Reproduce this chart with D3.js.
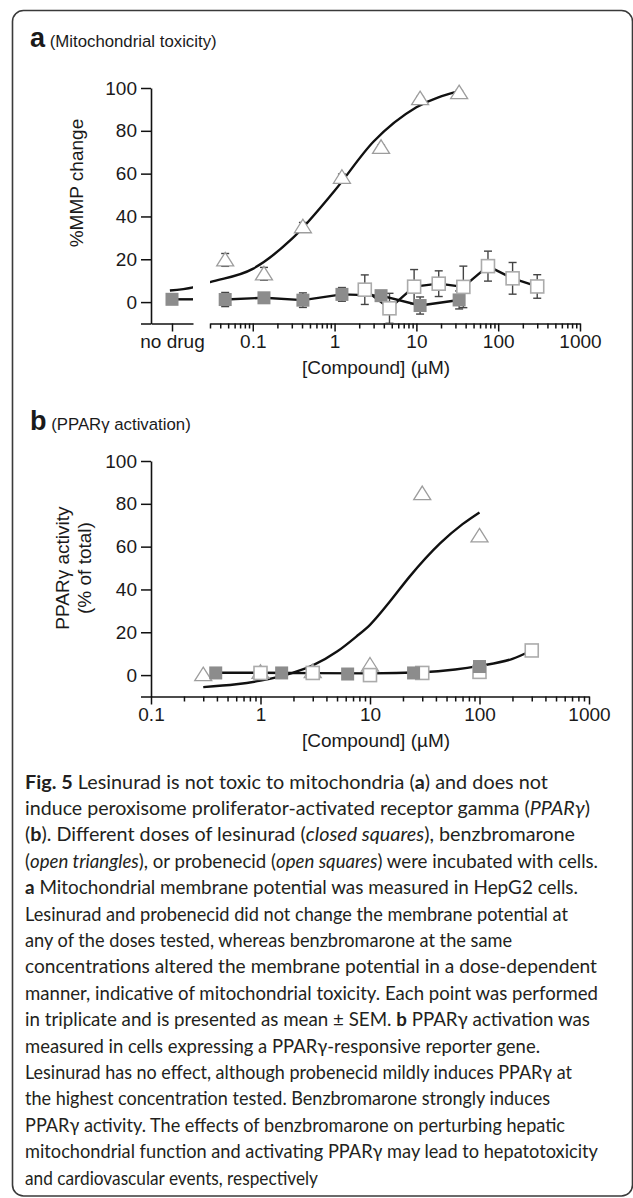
<!DOCTYPE html>
<html>
<head>
<meta charset="utf-8">
<script src="https://cdnjs.cloudflare.com/ajax/libs/d3/7.8.5/d3.min.js"></script>
<style>
  html, body { margin: 0; padding: 0; background: #fff; }
  svg { display: block; }
  text { font-family: "Liberation Sans", Arial, Helvetica, sans-serif; fill: #1a1a1a; }
  .caption text { font-family: Lato, "Open Sans", sans-serif; fill: #231f20; }
</style>
</head>
<body>
<svg width="633" height="1198"></svg>
<script>
// ---- panel a (mitochondrial toxicity), %MMP change ----
const noDrug = ['no drug'];
const lesNoDrugA = 1.3;
const lesDoseA = [0.046, 0.137, 0.41, 1.23, 3.7, 11.1, 33.3];
const lesMmpA = [1.2, 2.0, 0.9, 3.6, 3.0, -1.6, 1.0];
const lesSemA = [3.3, 1.2, 3.4, 3.2, 1.2, 4.0, 4.2];
const benzDoseA = [0.046, 0.137, 0.41, 1.23, 3.7, 11.1, 33.3];
const benzMmpA = [19.7, 13.2, 35.2, 58.3, 72.3, 95.0, 97.8];
const benzSemA = [3.0, 3.0, 2.0, 1.5, 1.0, 1.0, 1.0];
const probDoseA = [2.34, 4.69, 9.38, 18.75, 37.5, 75, 150, 300];
const probMmpA = [5.8, -2.9, 7.2, 8.6, 7.1, 16.8, 11.1, 7.3];
const probSemA = [6.9, 7.0, 8.0, 6.0, 9.7, 7.0, 7.4, 5.5];
// fitted curve for benzbromarone: [dose, %]
const benzFitA = [[0.0097, 5.4], [0.0186, 6.9], [0.03, 9.3], [0.1, 15.5], [0.3, 29.5],
                  [1, 52], [3, 75], [10, 91], [33.3, 98.5]];

// ---- panel b (PPARy activation), % of total ----
const lesDoseB = [0.39, 1.56, 6.25, 25, 100];
const lesActB = [1.0, 1.0, 0.5, 1.0, 4.0];
const benzDoseB = [0.3, 1, 3, 10, 30, 100];
const benzActB = [0.2, 1.3, 1.6, 4.7, 84.8, 65];
const probDoseB = [1, 3, 10, 30, 100, 300];
const probActB = [1.0, 1.0, 0.0, 1.0, 1.5, 11.5];
const benzFitB = [[0.3, -5.6], [0.6, -4.3], [1, -2.6], [2, 1.2], [3, 4.5], [5, 11], [7.5, 18],
                  [10, 23.5], [15, 34], [23, 46], [43.6, 61.5], [70, 70.5], [100, 76]];
const lowFitB = [[0.39, 1.1], [1, 1.1], [3, 0.9], [10, 0.8], [30, 1.3], [60, 2.6],
                 [100, 4.3], [200, 7.6], [300, 11.5]];

const yTicks = [-10, 0, 20, 40, 60, 80, 100];
const decades = [0.1, 1, 10, 100, 1000];

const captionLines = [
  [['Fig. 5', 'b'], [' Lesinurad is not toxic to mitochondria ('], ['a', 'b'], [') and does not']],
  [['induce peroxisome proliferator-activated receptor gamma ('], ['PPARγ', 'i'], [')']],
  [['('], ['b', 'b'], ['). Different doses of lesinurad ('], ['closed squares', 'i'], ['), benzbromarone']],
  [['('], ['open triangles', 'i'], ['), or probenecid ('], ['open squares', 'i'], [') were incubated with cells.']],
  [['a', 'b'], [' Mitochondrial membrane potential was measured in HepG2 cells.']],
  [['Lesinurad and probenecid did not change the membrane potential at']],
  [['any of the doses tested, whereas benzbromarone at the same']],
  [['concentrations altered the membrane potential in a dose-dependent']],
  [['manner, indicative of mitochondrial toxicity. Each point was performed']],
  [['in triplicate and is presented as mean ± SEM. '], ['b', 'b'], [' PPARγ activation was']],
  [['measured in cells expressing a PPARγ-responsive reporter gene.']],
  [['Lesinurad has no effect, although probenecid mildly induces PPARγ at']],
  [['the highest concentration tested. Benzbromarone strongly induces']],
  [['PPARγ activity. The effects of benzbromarone on perturbing hepatic']],
  [['mitochondrial function and activating PPARγ may lead to hepatotoxicity']],
  [['and cardiovascular events, respectively']]
];
// right end of each caption line as it sits in the figure
const captionEnds = [548, 590, 575, 598, 578, 568, 512, 597, 598, 590, 540, 572, 550, 565, 598, 318];

const svg = d3.select('svg');
const ink = '#111';

// outer frame
svg.append('rect')
  .attr('x', 12.5).attr('y', 10.5)
  .attr('width', 620).attr('height', 1185.5)
  .attr('rx', 11)
  .attr('fill', 'none').attr('stroke', '#3a3a3a').attr('stroke-width', 1.6);

function styleAxis(g) {
  g.select('.domain').attr('stroke', ink).attr('stroke-width', 1.6);
  g.selectAll('.tick line').attr('stroke', ink).attr('stroke-width', 1.5);
  g.selectAll('.tick text').attr('fill', '#1a1a1a').style('font-size', '19px')
    .style('font-family', '"Liberation Sans", Arial, sans-serif');
}

function drawYAxis(g, y, left) {
  const ax = g.append('g')
    .attr('transform', `translate(${left},0)`)
    .call(d3.axisLeft(y).tickValues(yTicks).tickSize(10).tickSizeOuter(0).tickPadding(4)
      .tickFormat(d => d < 0 ? '' : d));
  styleAxis(ax);
}

function drawLogAxis(g, x, yPos) {
  const ax = g.append('g')
    .attr('transform', `translate(0,${yPos})`)
    .call(d3.axisBottom(x).tickValues(x.ticks()).tickSize(8).tickSizeOuter(0).tickPadding(3)
      .tickFormat(d => decades.some(v => Math.abs(v - d) < 1e-9) ? d3.format('~g')(d) : ''));
  ax.selectAll('.tick')
    .filter(d => !decades.some(v => Math.abs(v - d) < 1e-9))
    .select('line').attr('y2', 5);
  styleAxis(ax);
}

function errBars(g, xs, vals, errs, x, y) {
  const data = d3.zip(xs, vals, errs);
  const grp = g.append('g').attr('stroke', '#444').attr('stroke-width', 1.4);
  grp.selectAll('line.v').data(data).join('line').attr('class', 'v')
    .attr('x1', d => x(d[0])).attr('x2', d => x(d[0]))
    .attr('y1', d => y(d[1] - d[2])).attr('y2', d => y(d[1] + d[2]));
  [1, -1].forEach(s => {
    grp.selectAll('line.c' + (s > 0 ? 't' : 'b')).data(data).join('line')
      .attr('class', 'c' + (s > 0 ? 't' : 'b'))
      .attr('x1', d => x(d[0]) - 4).attr('x2', d => x(d[0]) + 4)
      .attr('y1', d => y(d[1] + s * d[2])).attr('y2', d => y(d[1] + s * d[2]));
  });
}

function closedSquares(g, xs, vals, x, y) {
  g.append('g').selectAll('rect').data(d3.zip(xs, vals)).join('rect')
    .attr('x', d => x(d[0]) - 6.5).attr('y', d => y(d[1]) - 6.5)
    .attr('width', 13).attr('height', 13).attr('fill', '#8c8c8c');
}

function openSquares(g, xs, vals, x, y) {
  g.append('g').selectAll('rect').data(d3.zip(xs, vals)).join('rect')
    .attr('x', d => x(d[0]) - 6.5).attr('y', d => y(d[1]) - 6.5)
    .attr('width', 13).attr('height', 13)
    .attr('fill', '#fff').attr('stroke', '#ababab').attr('stroke-width', 1.6);
}

function triangles(g, xs, vals, x, y) {
  g.append('g').selectAll('path').data(d3.zip(xs, vals)).join('path')
    .attr('d', d => {
      const cx = x(d[0]), cy = y(d[1]);
      return `M${cx},${cy - 7.5}L${cx + 8.5},${cy + 6}L${cx - 8.5},${cy + 6}Z`;
    })
    .attr('fill', '#fff').attr('stroke', '#9d9d9d').attr('stroke-width', 1.3);
}

function plotLine(g, pts, x, y, clip) {
  const p = g.append('path')
    .datum(pts)
    .attr('d', d3.line().x(d => x(d[0])).y(d => y(d[1])))
    .attr('fill', 'none').attr('stroke', ink).attr('stroke-width', 2.4)
    .attr('stroke-linejoin', 'round');
  if (clip) p.attr('clip-path', `url(#${clip})`);
  return p;
}

function smoothLine(g, pts, x, y, clip) {
  const p = g.append('path')
    .datum(pts)
    .attr('d', d3.line().curve(d3.curveMonotoneX).x(d => x(d[0])).y(d => y(d[1])))
    .attr('fill', 'none').attr('stroke', ink).attr('stroke-width', 2.4);
  if (clip) p.attr('clip-path', `url(#${clip})`);
  return p;
}

function panelTitle(letter, label, yBase) {
  const t = svg.append('text').attr('x', 30).attr('y', yBase);
  t.append('tspan').text(letter).style('font-weight', 'bold').style('font-size', '27px');
  t.append('tspan').text(' ' + label).style('font-size', '16.8px');
}

// ================= panel a =================
const gA = svg.append('g');
const yA = d3.scaleLinear().domain([-10, 100]).range([323.5, 88]);
const xA = d3.scaleLog().domain([0.03, 1000]).range([210, 580]);
const ndA = d3.scalePoint().domain(noDrug).range([151, 193]).padding(0.5);

panelTitle('a', '(Mitochondrial toxicity)', 47);

const defs = svg.append('defs');
const clipA = defs.append('clipPath').attr('id', 'clipA');
clipA.append('rect').attr('x', ndA.range()[0]).attr('y', 0).attr('width', ndA.range()[1] - ndA.range()[0]).attr('height', 1198);
clipA.append('rect').attr('x', xA.range()[0]).attr('y', 0).attr('width', xA.range()[1] - xA.range()[0]).attr('height', 1198);

drawYAxis(gA, yA, 151);
const ndAx = gA.append('g').attr('transform', `translate(0,${yA(-10)})`)
  .call(d3.axisBottom(ndA).tickSize(8).tickSizeOuter(0).tickPadding(3));
styleAxis(ndAx);
drawLogAxis(gA, xA, yA(-10));

gA.append('text').attr('transform', `translate(76,${(yA(0) + yA(100)) / 2 - 12}) rotate(-90)`)
  .attr('text-anchor', 'middle').attr('dy', '0.35em').style('font-size', '19px')
  .text('%MMP change');
gA.append('text').attr('x', 376).attr('y', 374).attr('text-anchor', 'middle')
  .style('font-size', '19px').text('[Compound] (µM)');

// error bars behind the symbols
errBars(gA, lesDoseA, lesMmpA, lesSemA, xA, yA);
errBars(gA, probDoseA, probMmpA, probSemA, xA, yA);
errBars(gA, benzDoseA, benzMmpA, benzSemA, xA, yA);

// lines
smoothLine(gA, benzFitA, xA, yA, 'clipA');
plotLine(gA, d3.zip(lesDoseA, lesMmpA), xA, yA);
plotLine(gA, d3.zip(probDoseA, probMmpA), xA, yA);
gA.append('line')
  .attr('x1', ndA(noDrug[0])).attr('x2', ndA.range()[1])
  .attr('y1', yA(lesNoDrugA)).attr('y2', yA(lesNoDrugA))
  .attr('stroke', ink).attr('stroke-width', 2.4);

// symbols
gA.append('rect')
  .attr('x', ndA(noDrug[0]) - 6.5).attr('y', yA(lesNoDrugA) - 6.5)
  .attr('width', 13).attr('height', 13).attr('fill', '#8c8c8c');
closedSquares(gA, lesDoseA, lesMmpA, xA, yA);
openSquares(gA, probDoseA, probMmpA, xA, yA);
triangles(gA, benzDoseA, benzMmpA, xA, yA);

// ================= panel b =================
const gB = svg.append('g');
const yB = d3.scaleLinear().domain([-10, 100]).range([696.5, 461]);
const xB = d3.scaleLog().domain([0.1, 1000]).range([151, 589]);

panelTitle('b', '(PPARγ activation)', 430);

drawYAxis(gB, yB, 151);
drawLogAxis(gB, xB, yB(-10));

const yLabB = gB.append('text')
  .attr('transform', `translate(74,${(yB(0) + yB(100)) / 2}) rotate(-90)`)
  .attr('text-anchor', 'middle').style('font-size', '19px');
yLabB.append('tspan').attr('x', 0).attr('dy', '-0.28em').text('PPARγ activity');
yLabB.append('tspan').attr('x', 0).attr('dy', '1.2em').text('(% of total)');

gB.append('text').attr('x', 376).attr('y', 747).attr('text-anchor', 'middle')
  .style('font-size', '19px').text('[Compound] (µM)');

smoothLine(gB, benzFitB, xB, yB);
smoothLine(gB, lowFitB, xB, yB);

triangles(gB, benzDoseB, benzActB, xB, yB);
openSquares(gB, probDoseB, probActB, xB, yB);
closedSquares(gB, lesDoseB, lesActB, xB, yB);

// ================= caption =================
const cap = svg.append('g').attr('class', 'caption');
const capTop = 788.5, capStep = 26.4, capLeft = 25;

captionLines.forEach((line, i) => {
  const t = cap.append('text').attr('x', capLeft).attr('y', capTop + i * capStep)
    .style('font-size', '18.7px')
    .attr('textLength', captionEnds[i] - capLeft)
    .attr('lengthAdjust', 'spacingAndGlyphs');
  line.forEach(seg => {
    const s = t.append('tspan').text(seg[0]);
    if (seg[1] === 'b') s.style('font-weight', 'bold');
    if (seg[1] === 'i') s.style('font-style', 'italic');
  });
});
</script>
</body>
</html>
